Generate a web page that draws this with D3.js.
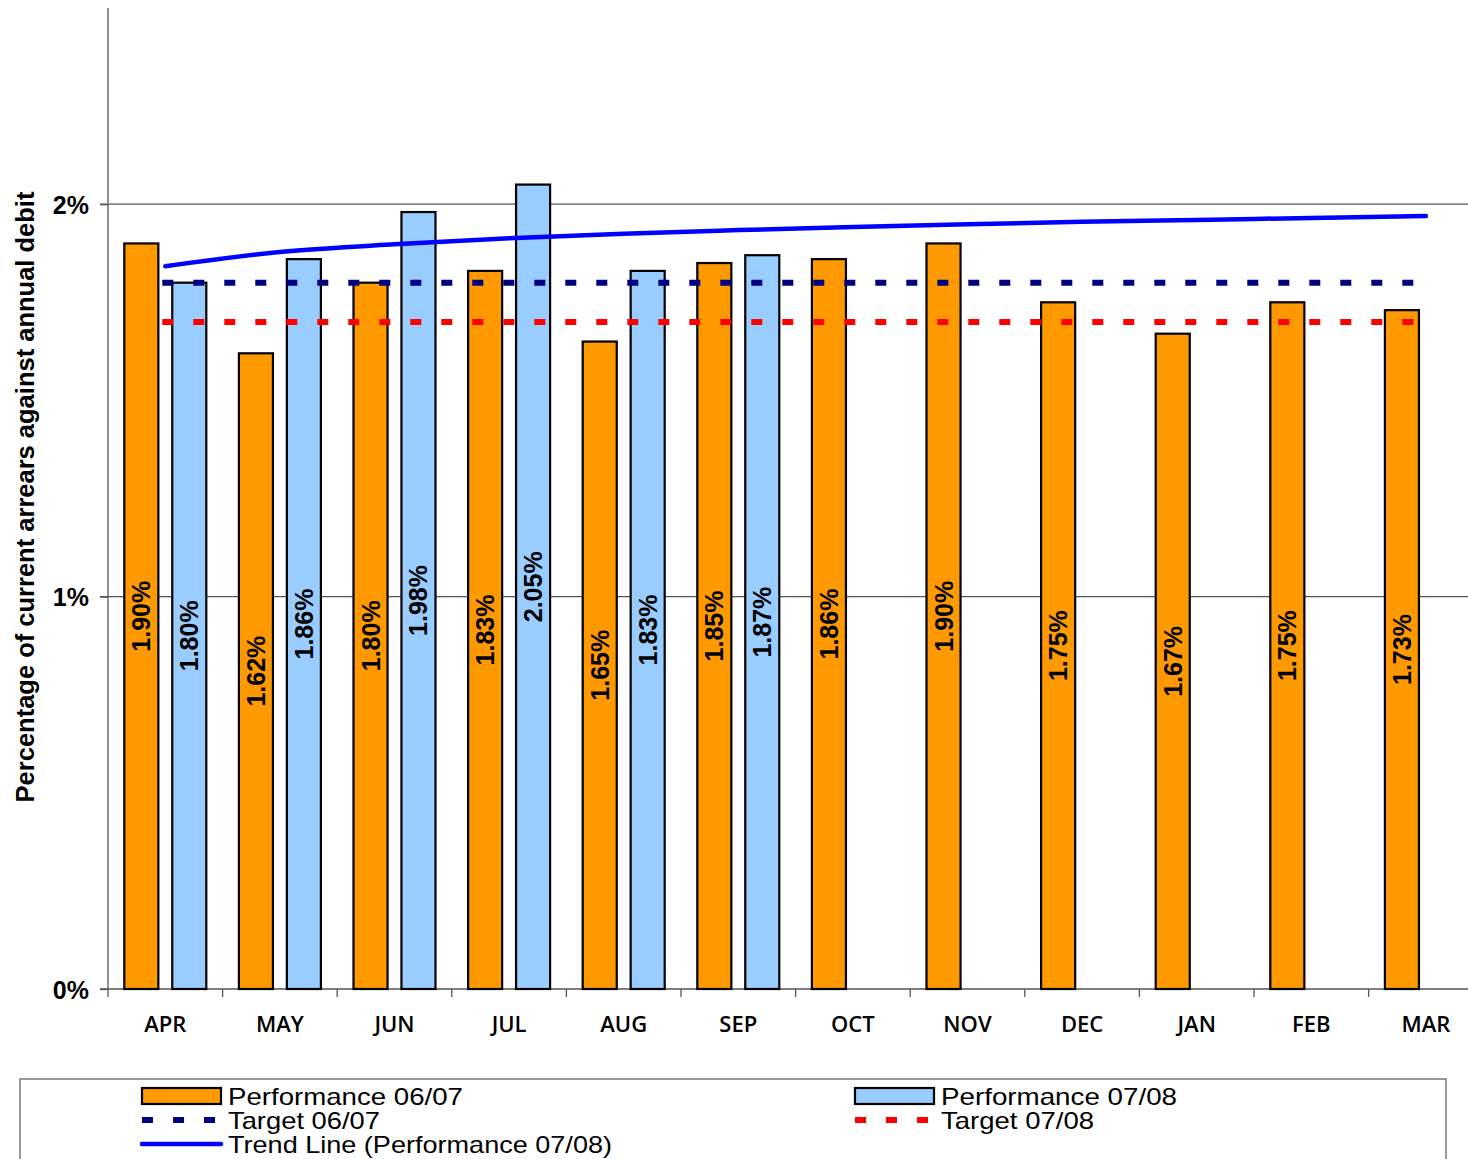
<!DOCTYPE html>
<html>
<head>
<meta charset="utf-8">
<script src="https://cdn.jsdelivr.net/npm/d3@7/dist/d3.min.js"></script>
<style>
  html, body { margin: 0; padding: 0; background: #fff; }
  svg { display: block; }
</style>
</head>
<body>
<svg id="chart" width="1468" height="1159"></svg>
<script>
// Monthly arrears as a percentage of annual debit
const months = ["APR", "MAY", "JUN", "JUL", "AUG", "SEP", "OCT", "NOV", "DEC", "JAN", "FEB", "MAR"];
const perf0607 = [1.90, 1.62, 1.80, 1.83, 1.65, 1.85, 1.86, 1.90, 1.75, 1.67, 1.75, 1.73];
const perf0708 = [1.80, 1.86, 1.98, 2.05, 1.83, 1.87];
const target0607 = 1.80;
const target0708 = 1.70;
const trend0708 = [1.842, 1.878, 1.898, 1.913, 1.925, 1.934, 1.942, 1.949, 1.955, 1.960, 1.965, 1.970];
const yTicks = [0, 1, 2];
const seriesNames = ["Performance 06/07", "Performance 07/08"];

const svg = d3.select("#chart");
const plotLeft = 108, plotRight = 1483.2, plotTop = 8, plotBottom = 989;

const x = d3.scaleBand().domain(months).range([plotLeft, plotRight]).padding(0);
const xs = d3.scaleBand().domain(["a", "b"]).range([0, x.bandwidth()]).paddingInner(0.29).paddingOuter(0.34);
const y = d3.scaleLinear().domain([0, 2.5]).range([plotBottom, plotTop]);

const axisColor = "#555";
const boldFont = "'Liberation Sans', Arial, sans-serif";

// gridlines
svg.append("g").selectAll("line").data(yTicks.filter(d => d > 0)).join("line")
  .attr("x1", plotLeft - 8).attr("x2", 1468)
  .attr("y1", d => y(d)).attr("y2", d => y(d))
  .attr("stroke", axisColor).attr("stroke-width", 1.3);

// y axis
const yAxis = svg.append("g").attr("transform", `translate(${plotLeft},0)`)
  .call(d3.axisLeft(y).tickValues(yTicks).tickSize(8).tickFormat(d => d + "%"));
yAxis.select(".domain").attr("stroke", axisColor).attr("stroke-width", 1.3)
  .attr("d", `M0,${plotTop}V${plotBottom}`);
yAxis.selectAll(".tick line").attr("stroke", axisColor).attr("stroke-width", 1.3);
yAxis.selectAll(".tick text")
  .attr("x", -19).attr("dy", "0.36em")
  .style("font-family", boldFont)
  .style("font-weight", "bold").style("font-size", "25px").attr("fill", "#000");

// x axis baseline and band ticks
svg.append("line").attr("x1", plotLeft - 8).attr("x2", 1468)
  .attr("y1", plotBottom).attr("y2", plotBottom)
  .attr("stroke", axisColor).attr("stroke-width", 1.3);
svg.append("g").selectAll("line").data(months).join("line")
  .attr("x1", d => x(d)).attr("x2", d => x(d))
  .attr("y1", plotBottom).attr("y2", plotBottom + 8)
  .attr("stroke", axisColor).attr("stroke-width", 1.3);
svg.append("g").selectAll("text").data(months).join("text")
  .attr("x", d => x(d) + x.bandwidth() / 2).attr("y", 1024)
  .attr("text-anchor", "middle").attr("dy", "0.36em")
  .style("font-family", "'Open Sans', sans-serif")
  .style("font-weight", 600).style("font-size", "22px")
  .text(d => d);

// bars
const barData = [];
perf0607.forEach((v, i) => barData.push({ m: months[i], s: "a", v, fill: "#FF9900" }));
perf0708.forEach((v, i) => barData.push({ m: months[i], s: "b", v, fill: "#99CCFF" }));

const bars = svg.append("g").selectAll("g").data(barData).join("g");
bars.append("rect")
  .attr("x", d => x(d.m) + xs(d.s))
  .attr("width", xs.bandwidth())
  .attr("y", d => y(d.v))
  .attr("height", d => y(0) - y(d.v))
  .attr("fill", d => d.fill)
  .attr("stroke", "#000").attr("stroke-width", 2.2);
bars.append("text")
  .attr("transform", d => {
    const cx = x(d.m) + xs(d.s) + xs.bandwidth() / 2;
    const cy = (y(d.v) + y(0)) / 2;
    return `translate(${cx},${cy}) rotate(-90)`;
  })
  .attr("text-anchor", "middle").attr("dy", "0.36em")
  .style("font-family", boldFont)
  .style("font-weight", "bold").style("font-size", "25px")
  .text(d => d.v.toFixed(2) + "%");

// target lines
const cx0 = x(months[0]) + x.bandwidth() / 2;
const cx1 = x(months[months.length - 1]) + x.bandwidth() / 2;
[[target0607, "#000080"], [target0708, "#FF0000"]].forEach(([t, c]) => {
  svg.append("line")
    .attr("x1", cx0 - 3).attr("x2", cx1)
    .attr("y1", y(t)).attr("y2", y(t))
    .attr("stroke", c).attr("stroke-width", 6)
    .attr("stroke-dasharray", "11,20");
});

// trend line
const line = d3.line()
  .x((d, i) => x(months[i]) + x.bandwidth() / 2)
  .y(d => y(d))
  .curve(d3.curveMonotoneX);
svg.append("path").datum(trend0708)
  .attr("d", line)
  .attr("fill", "none").attr("stroke", "#0000FF")
  .attr("stroke-width", 4.5).attr("stroke-linecap", "round");

// y axis title
svg.append("text")
  .attr("transform", "translate(25,497) rotate(-90)")
  .attr("text-anchor", "middle").attr("dy", "0.36em")
  .style("font-family", boldFont)
  .style("font-weight", "bold").style("font-size", "25.5px")
  .text("Percentage of current arrears against annual debit");

// legend
const lg = svg.append("g");
lg.append("rect").attr("x", 20).attr("y", 1079).attr("width", 1426).attr("height", 120)
  .attr("fill", "#fff").attr("stroke", "#777").attr("stroke-width", 1.5);

const legendItems = [
  { label: seriesNames[0], kind: "bar", color: "#FF9900", col: 0, row: 0, w: 235 },
  { label: seriesNames[1], kind: "bar", color: "#99CCFF", col: 1, row: 0, w: 236 },
  { label: "Target 06/07", kind: "dash", color: "#000080", col: 0, row: 1, w: 152 },
  { label: "Target 07/08", kind: "dash", color: "#FF0000", col: 1, row: 1, w: 153 },
  { label: "Trend Line (Performance 07/08)", kind: "line", color: "#0000FF", col: 0, row: 2, w: 384 }
];
const colX = [142, 855];
const rowY = [1096, 1120, 1144];
legendItems.forEach(it => {
  const gx = colX[it.col], gy = rowY[it.row];
  if (it.kind === "bar") {
    lg.append("rect").attr("x", gx).attr("y", gy - 8).attr("width", 79).attr("height", 16)
      .attr("fill", it.color).attr("stroke", "#000").attr("stroke-width", 2.2);
  } else if (it.kind === "dash") {
    lg.append("line").attr("x1", gx).attr("x2", gx + 79).attr("y1", gy).attr("y2", gy)
      .attr("stroke", it.color).attr("stroke-width", 6).attr("stroke-dasharray", "11,20");
  } else {
    lg.append("line").attr("x1", gx).attr("x2", gx + 79).attr("y1", gy).attr("y2", gy)
      .attr("stroke", it.color).attr("stroke-width", 4.5).attr("stroke-linecap", "round");
  }
  lg.append("text").attr("x", gx + 86).attr("y", gy).attr("dy", "0.36em")
    .style("font-family", "'Liberation Sans', Arial, sans-serif")
    .style("font-size", "24px")
    .attr("textLength", it.w).attr("lengthAdjust", "spacingAndGlyphs")
    .text(it.label);
});
</script>
</body>
</html>
